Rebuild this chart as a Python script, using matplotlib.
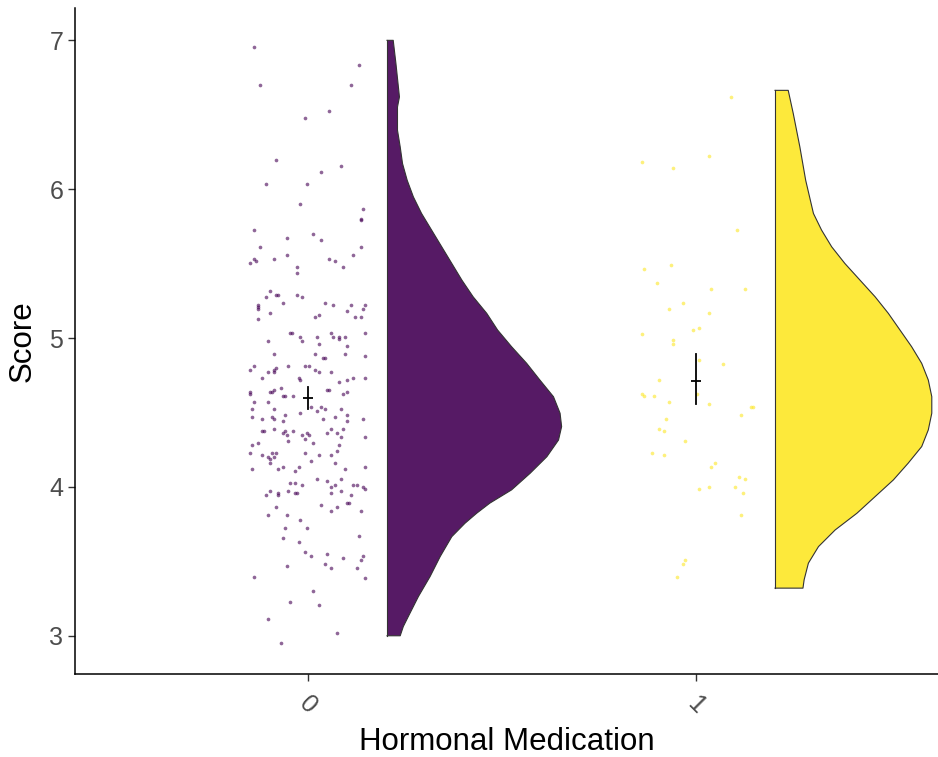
#!/usr/bin/env python3
# -*- coding: utf-8 -*-
"""
Raincloud plot: Score by Hormonal Medication
jittered raw points, flat half-violin and mean +/- error
"""

import numpy as np
import matplotlib.pyplot as plt

plt.rcParams['font.family'] = ['Liberation Sans', 'DejaVu Sans']

#%% Data
groups = ['0', '1']
colours = ['#440154', '#FDE725']

# group 0: scores and the horizontal jitter used for the raw points
score0 = [6.958, 6.837, 6.700, 6.700, 6.523, 6.481, 6.197, 6.156, 6.116, 6.034, 6.034, 5.899, 5.870, 5.799,
          5.790, 5.723, 5.696, 5.669, 5.656, 5.613, 5.613, 5.559, 5.559, 5.532, 5.519, 5.505, 5.532, 5.532,
          5.519, 5.479, 5.479, 5.436, 5.315, 5.275, 5.289, 5.289, 5.289, 5.275, 5.235, 5.221, 5.206, 5.195,
          5.126, 5.166, 5.235, 5.219, 5.219, 5.219, 5.179, 5.193, 5.139, 5.139, 5.139, 5.152,
          5.032, 5.032, 5.005, 4.978, 5.005, 4.962, 5.032, 5.005, 5.005, 4.991, 5.005, 4.948, 5.032, 4.978,
          4.895, 4.895, 4.868, 4.868, 4.895, 4.881, 4.814, 4.787, 4.732, 4.772, 4.772, 4.787, 4.801, 4.814,
          4.814, 4.814, 4.787, 4.772, 4.772, 4.732, 4.718, 4.663, 4.636, 4.622, 4.636, 4.636, 4.649, 4.609,
          4.609, 4.609, 4.649, 4.649, 4.622, 4.636, 4.705, 4.718, 4.732, 4.732, 4.568, 4.568, 4.526, 4.526,
          4.499, 4.539, 4.512, 4.539, 4.526, 4.526, 4.485, 4.445, 4.472, 4.458, 4.472, 4.458, 4.445, 4.485,
          4.458, 4.472, 4.458, 4.378, 4.378, 4.391, 4.364, 4.378, 4.351, 4.378, 4.311, 4.351, 4.364, 4.351,
          4.324, 4.297, 4.364, 4.391, 4.364, 4.338, 4.391, 4.338, 4.284, 4.297, 4.230, 4.217, 4.203, 4.190,
          4.163, 4.230, 4.203, 4.230, 4.230, 4.177, 4.217, 4.217, 4.243, 4.284, 4.123, 4.123, 4.136, 4.110,
          4.136, 4.163, 4.123, 4.136, 4.025, 4.025, 4.011, 4.052, 4.038, 3.998, 4.011, 4.052, 4.011, 4.011,
          3.998, 3.984, 3.944, 3.971, 3.958, 3.944, 3.971, 3.958, 3.958, 3.958, 3.971, 3.944, 3.891, 3.891,
          3.877, 3.837, 3.864, 3.837, 3.864, 3.808, 3.808, 3.781, 3.727, 3.727, 3.658, 3.631, 3.671, 3.562,
          3.535, 3.548, 3.521, 3.535, 3.508, 3.468, 3.481, 3.454, 3.454, 3.398, 3.385, 3.304, 3.224, 3.210,
          3.114, 3.020, 2.951]
jitter0 = [-0.138, 0.132, -0.123, 0.112, 0.054, -0.008, -0.082, 0.086, 0.034, -0.107, -0.003, -0.019, 0.143, 0.137,
           0.137, -0.138, 0.013, -0.055, 0.034, -0.123, 0.137, 0.117, -0.055, -0.138, -0.133, -0.149, -0.086, 0.054,
           0.070, 0.091, -0.029, -0.029, -0.097, -0.107, -0.081, -0.076, -0.029, -0.014, -0.065, -0.128, -0.128, -0.128,
           -0.128, -0.097, 0.044, 0.065, 0.112, 0.148, 0.101, 0.143, 0.122, 0.137, 0.018, 0.028,
           -0.045, -0.040, -0.019, -0.014, 0.023, 0.028, 0.059, 0.064, 0.081, 0.081, 0.096, 0.101, 0.148, -0.102,
           -0.087, 0.018, 0.039, 0.044, 0.096, 0.148, -0.138, -0.149, -0.118, -0.102, -0.087, -0.087, -0.082, -0.050,
           -0.008, 0.003, 0.018, 0.028, 0.059, -0.024, -0.019, -0.070, -0.149, -0.149, -0.097, -0.092, -0.087, -0.065,
           -0.060, -0.039, 0.049, 0.054, 0.091, 0.101, 0.081, 0.101, 0.117, 0.148, -0.138, -0.102, -0.144, -0.087,
           -0.019, 0.008, 0.023, 0.034, 0.044, 0.086, 0.101, 0.101, -0.144, -0.118, -0.092, -0.087, -0.065, -0.060,
           0.039, 0.070, 0.143, -0.118, -0.113, -0.087, -0.065, -0.060, -0.055, -0.039, -0.050, -0.014, -0.003, 0.003,
           -0.008, 0.013, 0.049, 0.059, 0.076, 0.086, 0.091, 0.148, -0.144, -0.128, -0.149, -0.118, -0.102, -0.097,
           -0.097, -0.092, -0.087, -0.082, -0.008, 0.008, 0.028, 0.059, 0.076, 0.081, -0.144, -0.076, -0.065, -0.034,
           -0.024, 0.070, 0.096, 0.148, -0.045, -0.034, -0.014, 0.023, 0.049, 0.059, 0.070, 0.086, 0.117, 0.127,
           0.143, 0.148, -0.107, -0.097, -0.076, -0.076, -0.050, -0.034, -0.029, 0.059, 0.086, 0.112, 0.101, 0.106,
           0.034, 0.059, 0.076, 0.137, -0.082, -0.102, -0.055, -0.019, -0.060, -0.003, -0.065, -0.024, 0.132, -0.008,
           0.008, 0.049, 0.091, 0.143, 0.137, -0.055, 0.044, 0.059, 0.127, -0.138, 0.148, 0.013, -0.045, 0.028,
           -0.102, 0.076, -0.070]

# group 1
score1 = [6.617, 6.224, 6.183, 6.143, 5.723, 5.463, 5.490, 5.369, 5.329, 5.329, 5.233, 5.193, 5.166, 5.056,
          5.069, 5.029, 4.989, 4.962, 4.855, 4.828, 4.718, 4.622, 4.609, 4.609, 4.568, 4.622, 4.555, 4.539,
          4.539, 4.485, 4.458, 4.391, 4.378, 4.311, 4.228, 4.215, 4.161, 4.134, 4.065, 4.052, 3.984, 3.998,
          3.998, 3.958, 3.808, 3.508, 3.481, 3.398]
jitter1 = [0.091, 0.034, -0.138, -0.060, 0.107, -0.133, -0.065, -0.101, 0.039, 0.127, -0.034, -0.070, 0.034, -0.008,
           0.008, -0.138, -0.060, -0.060, 0.008, 0.070, -0.096, -0.138, -0.133, -0.107, -0.070, 0.003, 0.034, 0.143,
           0.148, 0.117, -0.076, -0.096, -0.081, -0.028, -0.112, -0.081, 0.050, 0.039, 0.112, 0.127, 0.008, 0.034,
           0.101, 0.122, 0.117, -0.028, -0.034, -0.049]

# half-violin outlines (score, half width in x units)
v0_score = [3.000, 3.062, 3.130, 3.264, 3.398, 3.532, 3.666, 3.756, 3.823, 3.891, 3.980, 4.092, 4.203, 4.315,
            4.405, 4.495, 4.606, 4.718, 4.830, 4.942, 5.054, 5.166, 5.277, 5.389, 5.501, 5.613, 5.725, 5.837,
            5.948, 6.060, 6.172, 6.284, 6.396, 6.552, 6.620, 6.844, 7.000]
v0_width = [0.034, 0.042, 0.055, 0.081, 0.111, 0.137, 0.167, 0.201, 0.231, 0.265, 0.321, 0.369, 0.412, 0.442,
            0.450, 0.446, 0.429, 0.394, 0.360, 0.321, 0.285, 0.257, 0.222, 0.193, 0.167, 0.141, 0.115, 0.089,
            0.068, 0.052, 0.040, 0.034, 0.027, 0.027, 0.032, 0.023, 0.016]
v1_score = [3.320, 3.376, 3.488, 3.599, 3.711, 3.823, 3.935, 4.047, 4.159, 4.271, 4.383, 4.495, 4.606, 4.718,
            4.830, 4.942, 5.054, 5.166, 5.277, 5.389, 5.501, 5.613, 5.725, 5.837, 6.060, 6.284, 6.508, 6.664]
v1_width = [0.072, 0.075, 0.086, 0.112, 0.155, 0.211, 0.258, 0.305, 0.343, 0.378, 0.395, 0.404, 0.404, 0.395,
            0.378, 0.352, 0.322, 0.292, 0.258, 0.219, 0.180, 0.146, 0.120, 0.099, 0.079, 0.064, 0.047, 0.034]

# mean and error range per group
means = [4.600, 4.711]
err_lo = [4.525, 4.555]
err_hi = [4.673, 4.891]

#%% Plot
fig = plt.figure(figsize=(9.38, 7.57), dpi=100)
ax = fig.add_axes([0.080, 0.110, 0.920, 0.879])

points = [(score0, jitter0), (score1, jitter1)]
violins = [(v0_score, v0_width), (v1_score, v1_width)]
nudge = 0.204

for i in range(len(groups)):
    sc, jit = points[i]
    ax.scatter(i + np.array(jit), sc, s=7, marker='o', color=colours[i], alpha=0.6,
               linewidths=0, zorder=2)

    vs, vw = violins[i]
    x0 = i + nudge
    xs = np.concatenate([[x0], x0 + np.array(vw), [x0]])
    ys = np.concatenate([[vs[0]], vs, [vs[-1]]])
    ax.fill(xs, ys, facecolor=colours[i], alpha=0.9, edgecolor='none', zorder=3)
    ax.plot(xs, ys, color='#333333', lw=0.8, zorder=4)
    ax.plot([x0, x0], [vs[0], vs[-1]], color='#333333', lw=0.8, zorder=4)

    ax.plot([i, i], [err_lo[i], err_hi[i]], color='black', lw=1.3, zorder=5)
    ax.plot([i], [means[i]], marker='_', ms=7, mew=1.3, color='black', zorder=5)

ax.set_xlim(-0.6, 1.624)
ax.set_ylim(2.745, 7.215)
ax.set_xticks(range(len(groups)))
ax.set_xticklabels(groups, rotation=-45, ha='center', va='top')
ax.set_yticks([3, 4, 5, 6, 7])

for s in ['top', 'right']:
    ax.spines[s].set_visible(False)
for s in ['left', 'bottom']:
    ax.spines[s].set_linewidth(1.1)
    ax.spines[s].set_color('black')
ax.tick_params(axis='both', length=5, width=1, color='#333333', labelcolor='#4D4D4D', labelsize=18)
ax.tick_params(axis='x', pad=8)

ax.set_xlabel('Hormonal Medication', fontsize=22.5, labelpad=6)
ax.set_ylabel('Score', fontsize=22.5, labelpad=8)

fig.savefig('out.png', dpi=100)
